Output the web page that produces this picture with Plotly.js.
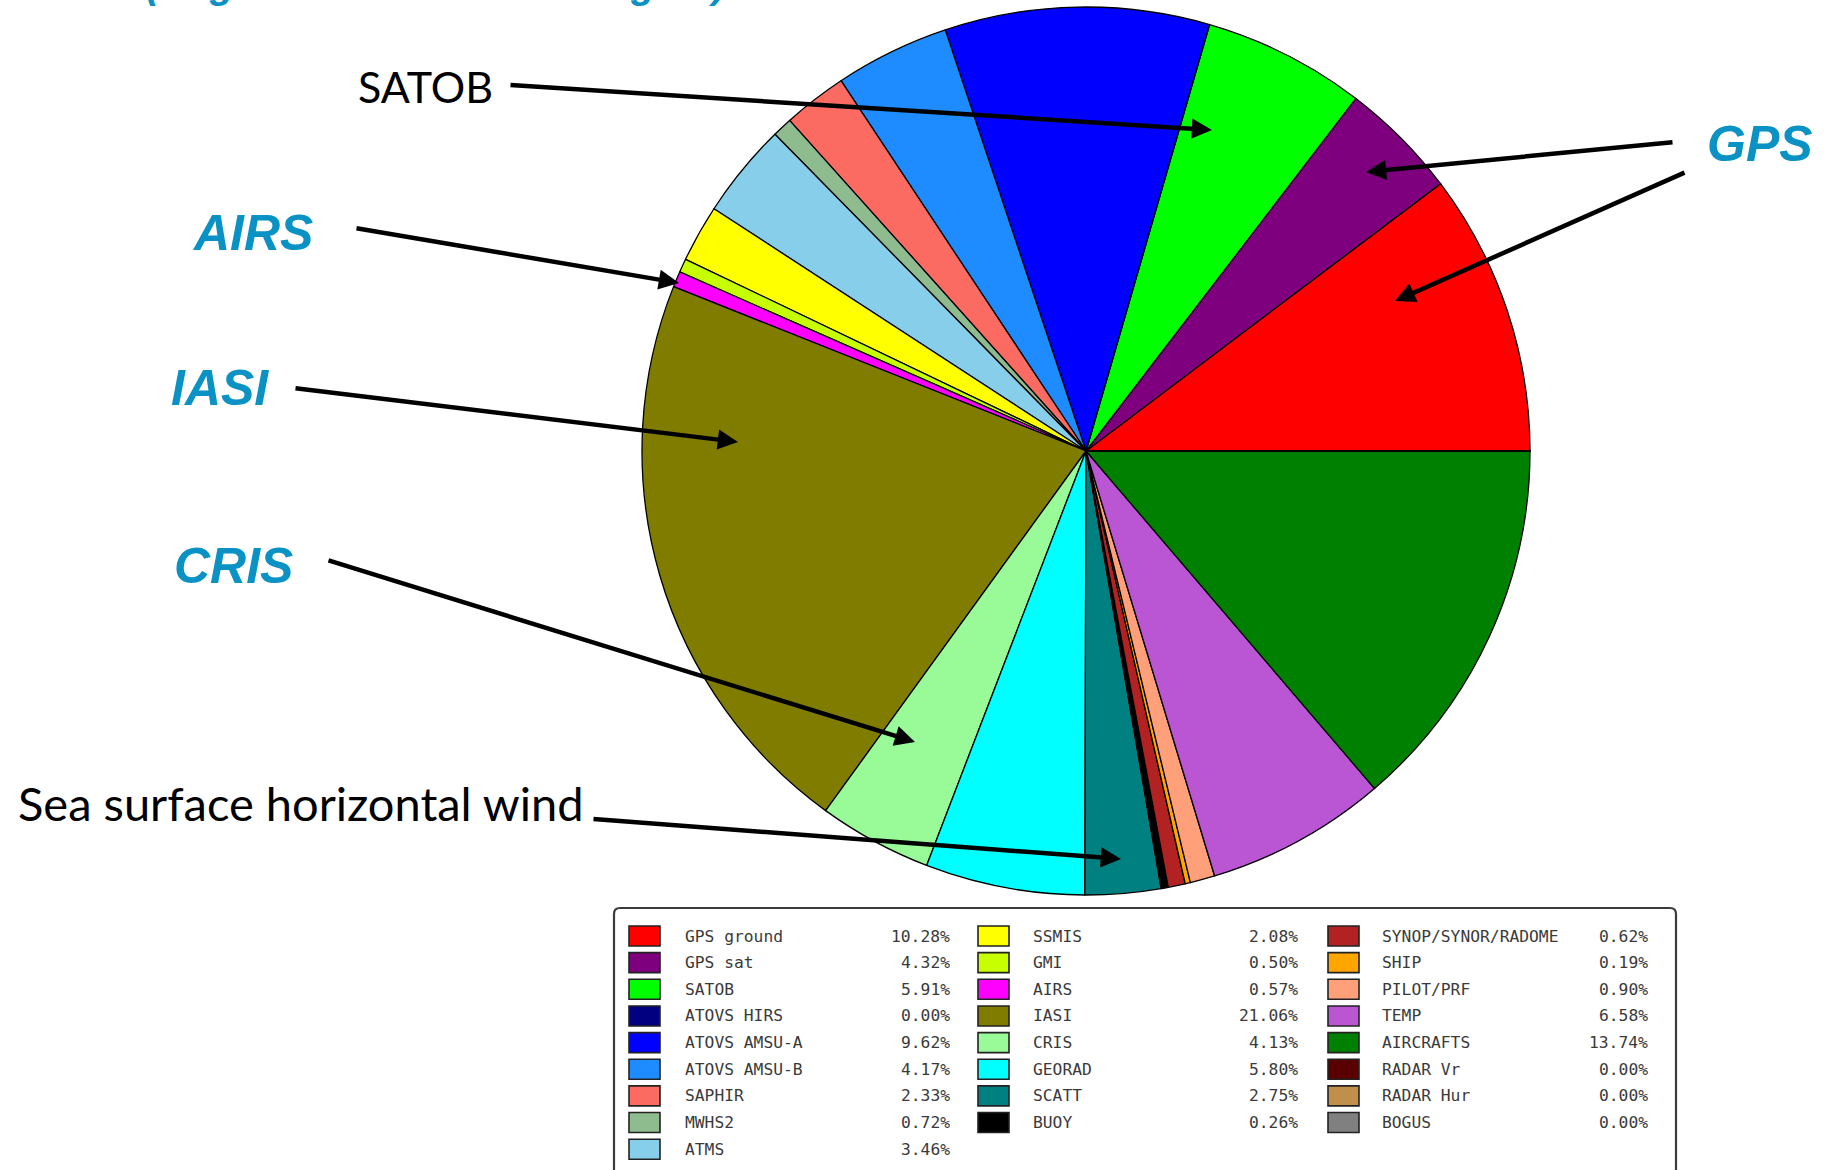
<!DOCTYPE html>
<html>
<head>
<meta charset="utf-8">
<script src="https://cdn.plot.ly/plotly-3.0.1.min.js"></script>
<style>html,body{margin:0;padding:0;background:#fff;}#chart{width:1827px;height:1170px;}</style>
</head>
<body>
<div id="chart"></div>
<script>
// ---- data ----
const obsNames = ["GPS ground","GPS sat","SATOB","ATOVS HIRS","ATOVS AMSU-A","ATOVS AMSU-B","SAPHIR","MWHS2","ATMS",
  "SSMIS","GMI","AIRS","IASI","CRIS","GEORAD","SCATT","BUOY",
  "SYNOP/SYNOR/RADOME","SHIP","PILOT/PRF","TEMP","AIRCRAFTS","RADAR Vr","RADAR Hur","BOGUS"];
const obsShare = [10.28,4.32,5.91,0.00,9.62,4.17,2.33,0.72,3.46,
  2.08,0.50,0.57,21.06,4.13,5.80,2.75,0.26,
  0.62,0.19,0.90,6.58,13.74,0.00,0.00,0.00];
const obsColors = ["#ff0000","#7f007f","#00ff00","#000080","#0000ff","#1e8cff","#fb6b62","#8fbc8f","#87ceeb",
  "#ffff00","#c8ff00","#ff00ff","#807c00","#98fb98","#00ffff","#008080","#000000",
  "#b22222","#ffa500","#ffa07a","#ba55d3","#008000","#5a0000","#c08f4c","#808080"];
const legendColumns = [9, 8, 8];
const titleFragment = "(Degree of Freedom for Signal)";
const callouts = ["SATOB","GPS","AIRS","IASI","CRIS","Sea surface horizontal wind"];

// ---- layout helpers ----
const W = 1827, H = 1170;
const px = x => x / W;
const py = y => 1 - y / H;

const total = obsShare.reduce((a, b) => a + b, 0);
// first slice should begin at 3 o'clock and the slices run counterclockwise
const startRotation = 90 - 360 * obsShare[0] / total;

const pie = {
  type: "pie",
  values: obsShare,
  labels: obsNames,
  sort: false,
  direction: "counterclockwise",
  rotation: startRotation,
  textinfo: "none",
  hoverinfo: "skip",
  showlegend: false,
  marker: { colors: obsColors, line: { color: "#000000", width: 1.3 } },
  domain: { x: [px(642), px(1530)], y: [py(895), py(7)] }
};

const shapes = [];
const annotations = [];

// legend frame
const bx0 = 614, bx1 = 1676, by0 = 908, by1 = 1190, r = 6;
shapes.push({
  type: "path", xref: "paper", yref: "paper", layer: "below",
  path: `M${px(bx0+r)},${py(by0)} L${px(bx1-r)},${py(by0)} Q${px(bx1)},${py(by0)} ${px(bx1)},${py(by0+r)} L${px(bx1)},${py(by1)} L${px(bx0)},${py(by1)} L${px(bx0)},${py(by0+r)} Q${px(bx0)},${py(by0)} ${px(bx0+r)},${py(by0)} Z`,
  line: { color: "#3c3c3c", width: 2.2 }, fillcolor: "#ffffff"
});

const colSwatchX = [629, 978, 1328];
const colLabelX = [683, 1031, 1380];
const colPctX = [952, 1300, 1650];
const row0 = 936, rowStep = 26.65;
let idx = 0;
legendColumns.forEach((count, c) => {
  for (let k = 0; k < count; k++, idx++) {
    const yc = row0 + k * rowStep;
    shapes.push({
      type: "rect", xref: "paper", yref: "paper",
      x0: px(colSwatchX[c]), x1: px(colSwatchX[c] + 31),
      y0: py(yc - 10), y1: py(yc + 10),
      fillcolor: obsColors[idx], line: { color: "#222", width: 1.6 }
    });
    annotations.push({
      xref: "paper", yref: "paper", x: px(colLabelX[c]), y: py(yc), xanchor: "left", yanchor: "middle",
      text: obsNames[idx], showarrow: false,
      font: { family: "DejaVu Sans Mono", size: 16.3, color: "#3a3a3a" }
    });
    annotations.push({
      xref: "paper", yref: "paper", x: px(colPctX[c]), y: py(yc), xanchor: "right", yanchor: "middle",
      text: obsShare[idx].toFixed(2) + "%", showarrow: false,
      font: { family: "DejaVu Sans Mono", size: 16.3, color: "#3a3a3a" }
    });
  }
});

// callout labels
const blueFont = { family: "Liberation Sans, Arial", size: 50, color: "#0a92c4", weight: "bold", style: "italic" };
const blackFont = { family: "Lato", size: 43, color: "#000000" };
const blackFontBig = { family: "Lato", size: 47, color: "#000000" };
function label(text, x, y, font, anchor) {
  annotations.push({ xref: "paper", yref: "paper", x: px(x), y: py(y), xanchor: anchor || "center", yanchor: "middle",
    text: text, showarrow: false, font: font });
}
function arrow(x0, y0, x1, y1) {
  annotations.push({ xref: "paper", yref: "paper", x: px(x1), y: py(y1), ax: x0 - x1, ay: y0 - y1,
    text: "", showarrow: true, arrowhead: 2, arrowsize: 0.9, arrowwidth: 4.5, arrowcolor: "#000000", standoff: 0 });
}
label(callouts[0], 425, 87, blackFont);
arrow(509, 85, 1212, 130);
label(callouts[1], 1760, 144, blueFont);
arrow(1674, 142, 1366, 172);
arrow(1686, 172, 1395, 301);
label(callouts[2], 252, 233, blueFont);
arrow(355, 228, 679, 283);
label(callouts[3], 220, 388, blueFont);
arrow(294, 388, 738, 442);
label(callouts[4], 233, 566, blueFont);
arrow(327, 560, 915, 742);
label(callouts[5], 16, 803, blackFontBig, "left");
arrow(592, 819, 1121, 859);

// title line mostly above the top edge, as in the reference
annotations.push({ xref: "paper", yref: "paper", x: px(145), y: py(7), xanchor: "left", yanchor: "bottom",
  text: titleFragment, showarrow: false, borderpad: 0,
  font: { family: "Liberation Sans, Arial", size: 39.5, color: "#0a92c4", weight: "bold", style: "italic" } });

const layout = {
  width: W, height: H,
  margin: { l: 0, r: 0, t: 0, b: 0 },
  paper_bgcolor: "#ffffff", plot_bgcolor: "#ffffff",
  showlegend: false,
  shapes: shapes,
  annotations: annotations
};

Plotly.newPlot("chart", [pie], layout, { displayModeBar: false, staticPlot: true });
</script>
</body>
</html>
